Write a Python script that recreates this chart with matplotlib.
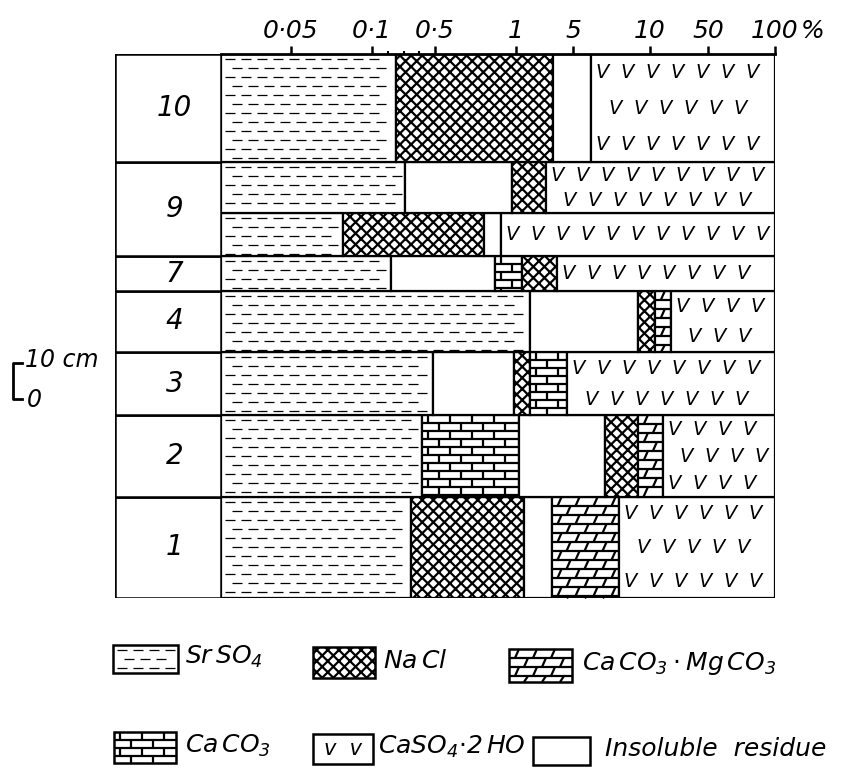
import numpy as np
import matplotlib
matplotlib.use('Agg')
import matplotlib.pyplot as plt
from matplotlib.collections import LineCollection
from matplotlib.patches import Rectangle
from matplotlib.lines import Line2D
from matplotlib.transforms import IdentityTransform, blended_transform_factory

plt.rcParams['font.family'] = 'DejaVu Sans'
plt.rcParams['font.style'] = 'italic'
plt.rcParams['mathtext.fontset'] = 'dejavusans'
plt.rcParams['mathtext.default'] = 'it'
plt.rcParams['hatch.linewidth'] = 1.6

# ---- beds, bottom to top ----
bed_labels = ['1', '2', '3', '4', '7', '9', '9', '10']
bed_thickness = [28, 22.5, 17.5, 17, 9.5, 12, 14, 30]   # cm

# minerals in each bed, left to right, and cumulative % at the right edge
bed_minerals = [
    ['SrSO4', 'NaCl', 'insol', 'dolomite', 'gypsum'],
    ['SrSO4', 'CaCO3', 'insol', 'NaCl', 'dolomite', 'gypsum'],
    ['SrSO4', 'insol', 'NaCl', 'CaCO3', 'gypsum'],
    ['SrSO4', 'insol', 'NaCl', 'dolomite', 'gypsum'],
    ['SrSO4', 'insol', 'CaCO3', 'NaCl', 'gypsum'],
    ['SrSO4', 'NaCl', 'insol', 'gypsum'],
    ['SrSO4', 'insol', 'NaCl', 'gypsum'],
    ['SrSO4', 'NaCl', 'insol', 'gypsum'],
]
bed_cumulative = [
    [0.35, 1.55, 3.5, 8.0, 100],
    [0.42, 1.2, 7.1, 9.2, 19, 100],
    [0.49, 0.99, 2.0, 4.6, 100],
    [2.0, 9.2, 13.4, 24.5, 100],
    [0.22, 0.87, 1.42, 3.9, 100],
    [0.082, 0.80, 0.91, 100],
    [0.31, 0.975, 3.1, 100],
    [0.25, 3.6, 6.2, 100],
]

legend_keys = ['SrSO4', 'NaCl', 'dolomite', 'CaCO3', 'gypsum', 'insol']
legend_labels = [r'$Sr\,SO_4$', r'$Na\,Cl$', r'$Ca\,CO_3\cdot Mg\,CO_3$',
                 r'$Ca\,CO_3$', r'$CaSO_4{\cdot}2\,HO$', 'Insoluble  residue']

tick_values = [0.05, 0.1, 0.5, 1, 5, 10, 50, 100]
tick_labels = ['0·05', '0·1', '0·5', '1', '5', '10', '50', '100']

# hand-drawn stretched percentage axis: offset (px) of each mark
scale_pct = [0, 0.05, 0.1, 0.5, 1, 5, 10, 50, 100]
scale_pos = [0, 70, 151, 214, 295, 352, 429, 487, 554]


def forward(v):
    return np.interp(v, scale_pct, scale_pos)


def inverse(p):
    return np.interp(p, scale_pos, scale_pct)


W, H = 846, 773
fig = plt.figure(figsize=(W / 100, H / 100), dpi=100)
ID = IdentityTransform()


def box(x0, y0, x1, y1):
    # pixel box measured from the top-left corner -> figure fraction
    return [x0 / W, 1 - y1 / H, (x1 - x0) / W, (y1 - y0) / H]


ax = fig.add_axes(box(221, 54, 775, 598))
lab = fig.add_axes(box(115, 54, 221, 598), sharey=ax)
ax.set_xscale('function', functions=(forward, inverse))
ax.set_xlim(0, 100)
ax.set_ylim(0, sum(bed_thickness))


# ---- fill textures, drawn in display pixels ----
def dashes(x0, y0, x1, y1, gap=9):
    segs = []
    y, i = y1 - 5, 0
    while y > y0 + 2:
        x = x0 + 4 + (i % 2) * 7
        while x + 10 < x1 - 2:
            segs.append([(x, y), (x + 10, y)])
            x += 16
        y -= gap
        i += 1
    fig.add_artist(LineCollection(segs, colors='k', linewidths=0.9,
                                  transform=ID, zorder=3))


def bricks(x0, y0, x1, y1, course=8, length=22, slant=0):
    segs = []
    top, k = y1, 0
    while top > y0 + 2:
        bot = max(top - course, y0)
        if bot > y0 + 1:
            segs.append([(x0, bot), (x1, bot)])
        x = x0 + 6 + (k % 2) * length / 2
        while x + slant < x1 - 3:
            segs.append([(x, bot), (x + slant, top)])
            x += length
        top = bot
        k += 1
    fig.add_artist(LineCollection(segs, colors='k', linewidths=1.6,
                                  transform=ID, zorder=3))


def vees(x0, y0, x1, y1, step=25):
    h = y1 - y0
    nrow = min(3, max(1, round(h / 30)))
    for i in range(nrow):
        y = y1 - h * (i + 0.5) / nrow
        x = x0 + 11 + (i % 2) * step / 2
        while x < x1 - 12:
            fig.text(x, y, 'V', transform=ID, ha='center', va='center',
                     fontsize=14, zorder=3)
            x += step


def texture(kind, x0, y0, x1, y1):
    if kind == 'SrSO4':
        dashes(x0, y0, x1, y1)
    elif kind == 'CaCO3':
        bricks(x0, y0, x1, y1, course=8, length=22)
    elif kind == 'dolomite':
        bricks(x0, y0, x1, y1, course=9, length=18, slant=4)
    elif kind == 'gypsum':
        vees(x0, y0, x1, y1)


# ---- column bars ----
bottom = 0.0
for minerals, cum, thick in zip(bed_minerals, bed_cumulative, bed_thickness):
    left = 0.0
    for kind, right in zip(minerals, cum):
        ax.barh(bottom, right - left, left=left, height=thick, align='edge',
                color='white', edgecolor='black', linewidth=1.6,
                hatch='xxx' if kind == 'NaCl' else None)
        (px0, py0), (px1, py1) = ax.transData.transform(
            [(left, bottom), (right, bottom + thick)])
        texture(kind, px0, py0, px1, py1)
        left = right
    bottom += thick

# ---- bed number column ----
lab.set_xlim(0, 1)
bottom, i = 0.0, 0
while i < len(bed_labels):
    j, h = i, 0.0
    while j < len(bed_labels) and bed_labels[j] == bed_labels[i]:
        h += bed_thickness[j]
        j += 1
    lab.barh(bottom, 1, left=0, height=h, align='edge', color='white',
             edgecolor='black', linewidth=1.8)
    lab.text(0.56, bottom + h / 2, bed_labels[i], ha='center', va='center',
             fontsize=20)
    bottom += h
    i = j
lab.axis('off')

# ---- axes dressing ----
for side in ['left', 'right', 'bottom']:
    ax.spines[side].set_visible(False)
ax.spines['top'].set_linewidth(2)
ax.xaxis.tick_top()
ax.set_xticks(tick_values, tick_labels)
ax.set_xticks([0.2, 0.3, 0.4], minor=True)
ax.tick_params(axis='x', which='major', direction='out', length=6, width=1.8,
               pad=2, labelsize=18)
ax.tick_params(axis='x', which='minor', direction='out', length=2, width=1.5)
ax.set_yticks([])
fig.text(801 / W, 1 - 31 / H, '%', ha='left', va='center', fontsize=18)

# ---- 10 cm scale bar ----
sb = blended_transform_factory(ID, ax.transData)
fig.add_artist(Line2D([22, 13, 13, 22], [65, 65, 55, 55], color='k', lw=2,
                      transform=sb))
fig.text(25, 65.8, '10 cm', transform=sb, ha='left', va='center', fontsize=17)
fig.text(27, 54.8, '0', transform=sb, ha='left', va='center', fontsize=17)

# ---- legend ----
legend_boxes = [(113, 645, 178, 673), (313, 647, 375, 678),
                (509, 649, 572, 682), (114, 732, 176, 763),
                (313, 734, 373, 764), (533, 737, 590, 765)]
legend_text_x = [185, 383, 582, 185, 378, 605]
for key, label, (x0, y0, x1, y1), tx in zip(legend_keys, legend_labels,
                                            legend_boxes, legend_text_x):
    fig.add_artist(Rectangle((x0, H - y1), x1 - x0, y1 - y0, transform=ID,
                             facecolor='white', edgecolor='black', lw=1.8,
                             hatch='xxx' if key == 'NaCl' else None, zorder=2))
    if key == 'gypsum':
        fig.text((x0 + x1) / 2, H - (y0 + y1) / 2, 'v  v', transform=ID,
                 ha='center', va='center', fontsize=15)
    else:
        texture(key, x0, H - y1, x1, H - y0)
    fig.text(tx, H - (y0 + y1) / 2 + 2, label, transform=ID, ha='left',
             va='center', fontsize=18)

fig.savefig('out.png', dpi=100)
